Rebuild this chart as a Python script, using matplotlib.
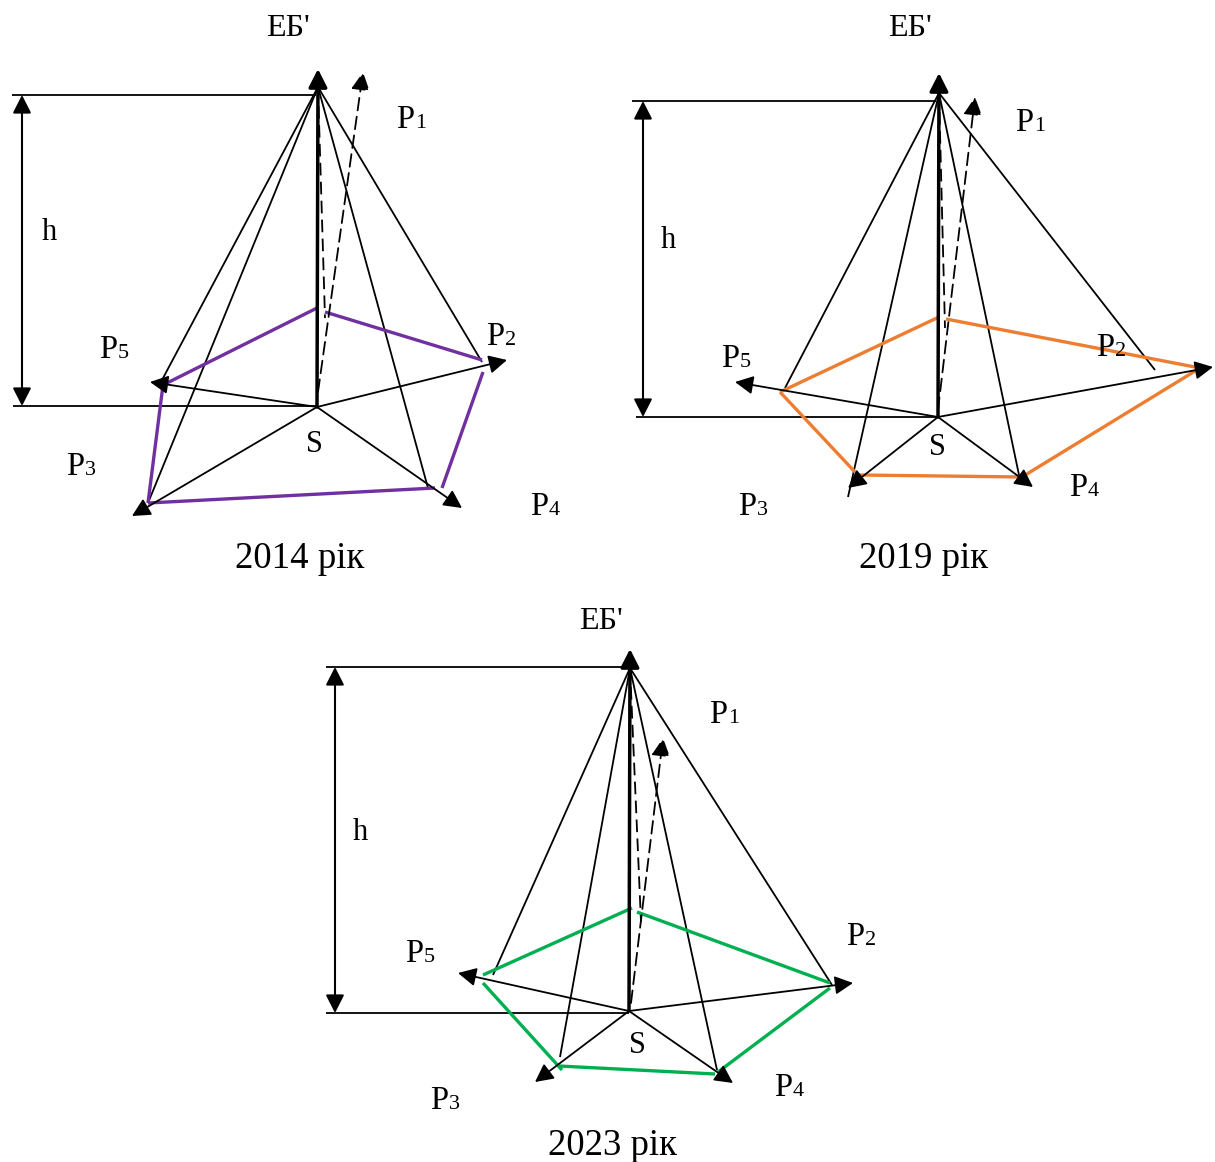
import matplotlib
matplotlib.use("Agg")
import matplotlib.pyplot as plt

# ---------------- data (pixel coordinates of the reference) ----------------
YEARS = ["2014 рік", "2019 рік", "2023 рік"]
POLY_COLORS = ["#7030A0", "#ED7D31", "#00B050"]

APEX_TIP = [(318, 69), (939, 73), (630, 649)]      # top of the ЕБ' axis arrow
APEX = [(318, 87), (939, 93), (630, 668)]          # where the edges converge
S_PT = [(317, 407), (938, 417), (629, 1011)]       # centre S

# dimension lines (h)
TOP_LINE = [((12, 95), (316, 95)), ((632, 101), (936, 101)), ((326, 667), (629, 667))]
BOT_LINE = [((13, 406), (317, 406)), ((636, 417), (938, 417)), ((326, 1013), (629, 1013))]
H_ARROW = [((22, 95), (22, 406)), ((643, 101), (643, 417)), ((335, 667), (335, 1013))]

# arrows from S to P2, P3, P4, P5
BASE_TIPS = [
    [(507, 360), (132, 516), (462, 508), (150, 382)],
    [(1213, 367), (848, 488), (1033, 487), (735, 382)],
    [(853, 983), (535, 1082), (733, 1083), (458, 973)],
]
# edges from the apex down to the base
EDGE_ENDS = [
    [(482, 362), (148, 503), (428, 488), (162, 380)],
    [(1155, 370), (848, 497), (1019, 475), (785, 388)],
    [(832, 985), (560, 1057), (717, 1070), (493, 975)],
]
# dashed line from apex and dashed P1 arrow
DASH_END = [(325, 318), (945, 328), (641, 922)]
P1_ARROW = [((318, 392), (363, 72)), ((938, 410), (975, 97)), ((631, 1003), (663, 738))]

# coloured polygon segments
POLY_SEGS = [
    [((163, 385), (317, 308)), ((325, 312), (482, 360)), ((483, 372), (442, 488)),
     ((435, 488), (148, 503)), ((148, 503), (163, 385))],
    [((780, 392), (939, 317)), ((946, 319), (1200, 368)), ((1200, 368), (1022, 477)),
     ((1022, 477), (860, 475)), ((855, 472), (780, 392))],
    [((483, 975), (632, 908)), ((637, 912), (830, 983)), ((830, 988), (718, 1072)),
     ((715, 1074), (559, 1066)), ((562, 1070), (483, 983))],
]

# labels: P-index -> (junction x, baseline y)
P_NAMES = ["1", "2", "3", "4", "5"]
P_POS = [
    [(414, 128), (504, 345), (84, 475), (548, 515), (117, 358)],
    [(1033, 131), (1114, 356), (756, 515), (1087, 496), (739, 367)],
    [(727, 723), (864, 945), (448, 1109), (792, 1096), (423, 962)],
]
EB_POS = [(288, 36), (910, 36), (601, 629)]
S_POS = [(314, 452), (937, 455), (637, 1053)]
H_POS = [(49, 240), (668, 248), (360, 840)]
YEAR_POS = [(300, 568), (924, 568), (612, 1155)]

# ---------------- drawing ----------------
W, H = 1215, 1162
fig = plt.figure(figsize=(W / 100, H / 100), dpi=100)
ax = fig.add_axes([0, 0, 1, 1])
ax.set_xlim(0, W)
ax.set_ylim(H, 0)
ax.axis("off")

SERIF = ["Liberation Serif", "DejaVu Serif"]
THIN = 1.3
DASH = (0, (7, 3.5))
HEAD = "-|>,head_length=0.55,head_width=0.28"


def arrow(p0, p1, lw=THIN, ls="-", style=HEAD):
    ax.annotate("", xy=p1, xytext=p0,
                arrowprops=dict(arrowstyle=style, lw=lw, color="black",
                                linestyle=ls, shrinkA=0, shrinkB=0,
                                mutation_scale=20))


def line(p0, p1, **kw):
    ax.plot([p0[0], p1[0]], [p0[1], p1[1]], solid_capstyle="butt", **kw)


for i in range(3):
    # dimension lines
    line(*TOP_LINE[i], color="black", lw=THIN)
    line(*BOT_LINE[i], color="black", lw=THIN)
    arrow(H_ARROW[i][0], H_ARROW[i][1], lw=1.5,
          style="<|-|>,head_length=0.55,head_width=0.28")

    # edges from apex
    for end in EDGE_ENDS[i]:
        line(APEX[i], end, color="black", lw=THIN)

    # dashed lines
    line(APEX[i], DASH_END[i], color="black", lw=THIN, ls=DASH)
    arrow(P1_ARROW[i][0], P1_ARROW[i][1], lw=THIN, ls=DASH)

    # base star arrows
    for tip in BASE_TIPS[i]:
        arrow(S_PT[i], tip, lw=THIN)

    # thick vertical ЕБ' axis
    arrow(S_PT[i], APEX_TIP[i], lw=2.5)

    # coloured polygon
    for a, b in POLY_SEGS[i]:
        line(a, b, color=POLY_COLORS[i], lw=2.4)

    # labels
    for name, (x, y) in zip(P_NAMES, P_POS[i]):
        ax.text(x, y, "P", fontsize=23.5, family=SERIF, ha="right", va="baseline")
        ax.text(x + 1, y, name, fontsize=16, family=SERIF, ha="left", va="baseline")
    ax.text(*EB_POS[i], "ЕБ'", fontsize=23, family=SERIF, ha="center", va="baseline")
    ax.text(*S_POS[i], "S", fontsize=22, family=SERIF, ha="center", va="baseline")
    ax.text(*H_POS[i], "h", fontsize=22, family=SERIF, ha="center", va="baseline")
    ax.text(*YEAR_POS[i], YEARS[i], fontsize=26.5, family=SERIF, ha="center", va="baseline")

fig.savefig("out.png", dpi=100, facecolor="white")
